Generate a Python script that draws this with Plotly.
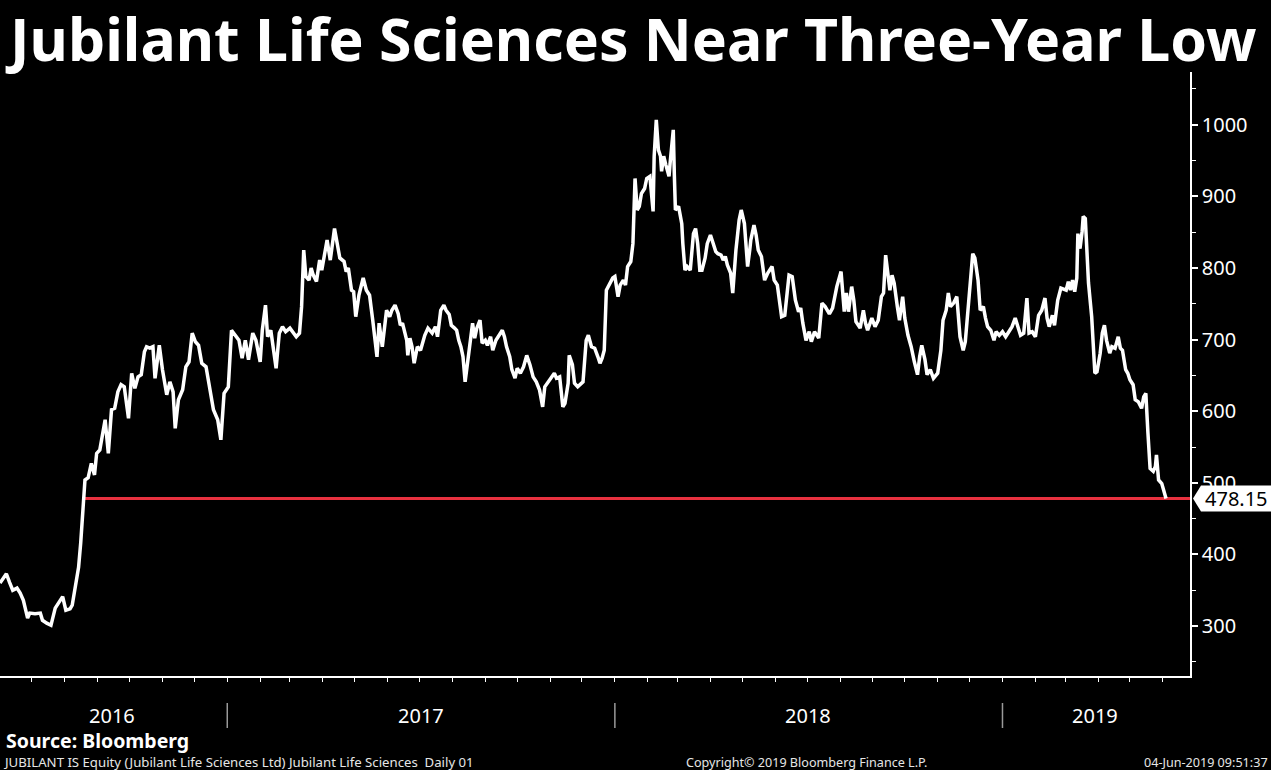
import plotly.graph_objects as go

# JUBILANT IS Equity, daily close
dates = [
    "2016-06-01", "2016-06-07", "2016-06-10", "2016-06-13", "2016-06-17", "2016-06-20",
    "2016-06-23", "2016-06-27", "2016-06-29", "2016-07-04", "2016-07-09", "2016-07-11",
    "2016-07-15", "2016-07-19", "2016-07-23", "2016-07-27", "2016-07-30", "2016-08-02",
    "2016-08-06", "2016-08-08", "2016-08-11", "2016-08-14", "2016-08-16", "2016-08-18",
    "2016-08-20", "2016-08-23", "2016-08-26", "2016-08-29", "2016-08-31", "2016-09-03",
    "2016-09-05", "2016-09-08", "2016-09-11", "2016-09-14", "2016-09-17", "2016-09-20",
    "2016-09-23", "2016-09-26", "2016-09-30", "2016-10-03", "2016-10-06", "2016-10-09",
    "2016-10-12", "2016-10-15", "2016-10-17", "2016-10-20", "2016-10-23", "2016-10-25",
    "2016-10-29", "2016-11-01", "2016-11-05", "2016-11-08", "2016-11-11", "2016-11-13",
    "2016-11-16", "2016-11-20", "2016-11-23", "2016-11-26", "2016-11-29", "2016-12-02",
    "2016-12-05", "2016-12-08", "2016-12-12", "2016-12-15", "2016-12-19", "2016-12-23",
    "2016-12-26", "2016-12-29", "2017-01-02", "2017-01-05", "2017-01-09", "2017-01-12",
    "2017-01-15", "2017-01-18", "2017-01-21", "2017-01-25", "2017-01-28", "2017-02-01",
    "2017-02-03", "2017-02-06", "2017-02-08", "2017-02-11", "2017-02-16", "2017-02-19",
    "2017-02-22", "2017-02-25", "2017-03-01", "2017-03-07", "2017-03-10", "2017-03-12",
    "2017-03-14", "2017-03-16", "2017-03-19", "2017-03-21", "2017-03-23", "2017-03-26",
    "2017-03-29", "2017-03-31", "2017-04-05", "2017-04-08", "2017-04-12", "2017-04-15",
    "2017-04-17", "2017-04-21", "2017-04-23", "2017-04-25", "2017-04-28", "2017-04-30",
    "2017-05-02", "2017-05-05", "2017-05-09", "2017-05-12", "2017-05-15", "2017-05-18",
    "2017-05-22", "2017-05-24", "2017-05-27", "2017-05-31", "2017-06-03", "2017-06-05",
    "2017-06-08", "2017-06-11", "2017-06-13", "2017-06-15", "2017-06-19", "2017-06-20",
    "2017-06-22", "2017-06-24", "2017-06-26", "2017-06-29", "2017-07-02", "2017-07-06",
    "2017-07-09", "2017-07-13", "2017-07-16", "2017-07-18", "2017-07-21", "2017-07-24",
    "2017-07-26", "2017-07-29", "2017-07-31", "2017-08-03", "2017-08-05", "2017-08-07",
    "2017-08-09", "2017-08-11", "2017-08-13", "2017-08-16", "2017-08-18", "2017-08-20",
    "2017-08-22", "2017-08-24", "2017-08-27", "2017-08-29", "2017-09-01", "2017-09-03",
    "2017-09-06", "2017-09-08", "2017-09-11", "2017-09-14", "2017-09-17", "2017-09-19",
    "2017-09-21", "2017-09-24", "2017-09-26", "2017-09-29", "2017-10-01", "2017-10-04",
    "2017-10-07", "2017-10-10", "2017-10-13", "2017-10-16", "2017-10-19", "2017-10-22",
    "2017-10-25", "2017-10-27", "2017-10-30", "2017-11-02", "2017-11-05", "2017-11-07",
    "2017-11-10", "2017-11-13", "2017-11-15", "2017-11-18", "2017-11-19", "2017-11-22",
    "2017-11-24", "2017-11-27", "2017-11-30", "2017-12-02", "2017-12-05", "2017-12-07",
    "2017-12-10", "2017-12-13", "2017-12-16", "2017-12-18", "2017-12-20", "2017-12-22",
    "2017-12-24", "2017-12-27", "2017-12-30", "2018-01-01", "2018-01-04", "2018-01-06",
    "2018-01-09", "2018-01-11", "2018-01-13", "2018-01-16", "2018-01-18", "2018-01-20",
    "2018-01-22", "2018-01-24", "2018-01-26", "2018-01-29", "2018-01-31", "2018-02-03",
    "2018-02-04", "2018-02-06", "2018-02-07", "2018-02-09", "2018-02-11", "2018-02-13",
    "2018-02-14", "2018-02-16", "2018-02-18", "2018-02-21", "2018-02-22", "2018-02-25",
    "2018-02-26", "2018-02-27", "2018-03-02", "2018-03-05", "2018-03-06", "2018-03-08",
    "2018-03-10", "2018-03-13", "2018-03-16", "2018-03-18", "2018-03-20", "2018-03-22",
    "2018-03-24", "2018-03-27", "2018-03-29", "2018-04-01", "2018-04-03", "2018-04-06",
    "2018-04-08", "2018-04-11", "2018-04-13", "2018-04-15", "2018-04-17", "2018-04-20",
    "2018-04-22", "2018-04-25", "2018-04-28", "2018-04-30", "2018-05-03", "2018-05-06",
    "2018-05-08", "2018-05-09", "2018-05-12", "2018-05-14", "2018-05-16", "2018-05-19",
    "2018-05-22", "2018-05-25", "2018-05-29", "2018-05-31", "2018-06-03", "2018-06-07",
    "2018-06-10", "2018-06-12", "2018-06-14", "2018-06-17", "2018-06-20", "2018-06-23",
    "2018-06-25", "2018-06-27", "2018-06-30", "2018-07-03", "2018-07-05", "2018-07-08",
    "2018-07-12", "2018-07-15", "2018-07-18", "2018-07-22", "2018-07-25", "2018-07-29",
    "2018-08-02", "2018-08-05", "2018-08-07", "2018-08-09", "2018-08-12", "2018-08-14",
    "2018-08-16", "2018-08-20", "2018-08-23", "2018-08-25", "2018-08-27", "2018-08-31",
    "2018-09-03", "2018-09-06", "2018-09-09", "2018-09-11", "2018-09-13", "2018-09-15",
    "2018-09-17", "2018-09-19", "2018-09-21", "2018-09-24", "2018-09-26", "2018-09-29",
    "2018-10-01", "2018-10-04", "2018-10-07", "2018-10-10", "2018-10-13", "2018-10-15",
    "2018-10-17", "2018-10-20", "2018-10-22", "2018-10-25", "2018-10-28", "2018-11-01",
    "2018-11-04", "2018-11-06", "2018-11-09", "2018-11-11", "2018-11-13", "2018-11-16",
    "2018-11-19", "2018-11-22", "2018-11-25", "2018-11-27", "2018-11-30", "2018-12-02",
    "2018-12-04", "2018-12-06", "2018-12-09", "2018-12-11", "2018-12-14", "2018-12-16",
    "2018-12-18", "2018-12-21", "2018-12-24", "2018-12-26", "2018-12-29", "2019-01-01",
    "2019-01-04", "2019-01-07", "2019-01-10", "2019-01-13", "2019-01-15", "2019-01-18",
    "2019-01-21", "2019-01-24", "2019-01-26", "2019-01-29", "2019-02-01", "2019-02-04",
    "2019-02-07", "2019-02-10", "2019-02-12", "2019-02-14", "2019-02-17", "2019-02-19",
    "2019-02-22", "2019-02-25", "2019-03-02", "2019-03-04", "2019-03-06", "2019-03-08",
    "2019-03-10", "2019-03-12", "2019-03-13", "2019-03-15", "2019-03-17", "2019-03-18",
    "2019-03-20", "2019-03-21", "2019-03-23", "2019-03-26", "2019-03-27", "2019-03-29",
    "2019-03-31", "2019-04-03", "2019-04-05", "2019-04-07", "2019-04-09", "2019-04-12",
    "2019-04-14", "2019-04-17", "2019-04-20", "2019-04-22", "2019-04-24", "2019-04-27",
    "2019-04-29", "2019-05-01", "2019-05-04", "2019-05-06", "2019-05-09", "2019-05-12",
    "2019-05-14", "2019-05-16", "2019-05-18", "2019-05-20", "2019-05-23", "2019-05-25",
    "2019-05-26", "2019-05-28", "2019-05-31", "2019-06-02", "2019-06-04",
]

prices = [
    360, 373, 361, 350, 353, 346,
    336, 311, 318, 317, 318, 308,
    304, 301, 325, 334, 341, 322,
    324, 329, 355, 382, 416, 466,
    504, 507, 527, 511, 541, 546,
    564, 588, 541, 602, 604, 627,
    637, 634, 590, 653, 632, 648,
    651, 683, 690, 688, 690, 646,
    692, 658, 623, 641, 627, 576,
    616, 630, 662, 669, 709, 697,
    692, 667, 662, 639, 602, 588,
    560, 625, 634, 713, 704, 699,
    674, 699, 672, 709, 699, 669,
    713, 748, 704, 713, 660, 709,
    718, 711, 716, 704, 709, 746,
    825, 788, 783, 800, 790, 781,
    811, 797, 839, 811, 855, 830,
    814, 809, 795, 800, 769, 767,
    732, 762, 786, 769, 762, 727,
    676, 723, 690, 741, 732, 741,
    748, 736, 720, 723, 699, 678,
    702, 690, 667, 690, 685, 706,
    716, 709, 718, 704, 741, 748,
    741, 735, 720, 716, 713, 699,
    690, 676, 641, 676, 699, 723,
    702, 716, 727, 695, 699, 692,
    704, 685, 699, 706, 713, 704,
    690, 676, 658, 646, 660, 653,
    662, 678, 665, 648, 641, 630,
    606, 634, 641, 646, 653, 646,
    648, 606, 611, 639, 678, 665,
    639, 634, 639, 641, 699, 706,
    690, 688, 676, 667, 674, 685,
    769, 779, 786, 788, 760, 776,
    783, 776, 802, 809, 834, 925,
    881, 886, 904, 911, 925, 928,
    909, 879, 956, 1007, 965, 956,
    935, 956, 944, 928, 946, 993,
    930, 881, 886, 862, 834, 797,
    802, 797, 848, 855, 834, 797,
    797, 814, 834, 846, 837, 823,
    820, 818, 811, 816, 804, 793,
    765, 825, 867, 881, 862, 802,
    825, 839, 860, 846, 825, 816,
    783, 793, 802, 783, 776, 732,
    734, 760, 790, 788, 755, 739,
    744, 723, 699, 711, 697, 711,
    702, 751, 746, 736, 744, 774,
    795, 739, 765, 739, 774, 755,
    725, 716, 741, 723, 713, 730,
    718, 727, 760, 765, 818, 793,
    769, 790, 779, 746, 727, 760,
    730, 706, 690, 669, 651, 676,
    692, 672, 651, 658, 646, 653,
    685, 727, 741, 765, 746, 751,
    760, 704, 685, 697, 746, 788,
    820, 814, 783, 741, 746, 730,
    718, 713, 699, 711, 706, 711,
    704, 711, 718, 730, 720, 706,
    709, 758, 709, 711, 704, 734,
    741, 758, 730, 718, 734, 720,
    755, 772, 769, 781, 769, 783,
    767, 786, 848, 827, 851, 872,
    869, 844, 779, 732, 699, 653,
    655, 681, 709, 720, 699, 681,
    690, 688, 704, 688, 685, 658,
    653, 644, 637, 616, 613, 604,
    620, 625, 569, 520, 516, 523,
    539, 504, 499, 488, 478.15,
]

last_price = 478.15
level_start = "2016-08-20"   # where the red level line begins

x_range = ["2016-06-01", "2019-06-26 14:00"]
y_range = [230.2, 1073.7]

month_ticks = [
    "2016-07-01", "2016-08-01", "2016-09-01", "2016-10-01", "2016-11-01", "2016-12-01",
    "2017-01-01", "2017-02-01", "2017-03-01", "2017-04-01", "2017-05-01", "2017-06-01",
    "2017-07-01", "2017-08-01", "2017-09-01", "2017-10-01", "2017-11-01", "2017-12-01",
    "2018-01-01", "2018-02-01", "2018-03-01", "2018-04-01", "2018-05-01", "2018-06-01",
    "2018-07-01", "2018-08-01", "2018-09-01", "2018-10-01", "2018-11-01", "2018-12-01",
    "2019-01-01", "2019-02-01", "2019-03-01", "2019-04-01", "2019-05-01", "2019-06-01",
]
y_ticks = [300, 400, 500, 600, 700, 800, 900, 1000]
y_minor = [250, 350, 450, 550, 650, 750, 850, 950, 1050]

year_labels = ["2016", "2017", "2018", "2019"]
year_centers = ["2016-09-14", "2017-07-02", "2018-07-02", "2019-03-29"]
year_breaks = ["2017-01-01", "2018-01-01", "2019-01-01"]

W, H = 1271, 770
M_L, M_R, M_T, M_B = 0, 81, 72, 94
PW, PH = W - M_L - M_R, H - M_T - M_B


def px(xp):
    return (xp - M_L) / PW


def py(yp):
    return (H - M_B - yp) / PH


WHITE = "#ffffff"
RED = "#e8313f"
LABEL_FONT = "Noto Sans"

fig = go.Figure()

fig.add_trace(go.Scatter(
    x=[level_start, x_range[1]], y=[last_price, last_price],
    mode="lines", line=dict(color=RED, width=3), hoverinfo="skip",
))
fig.add_trace(go.Scatter(
    x=dates, y=prices, mode="lines",
    line=dict(color=WHITE, width=3.5), hoverinfo="skip",
))

# price tag on the right axis
per_px = (y_range[1] - y_range[0]) / PH
half = 13 * per_px
x_tip, x_box, x_end = px(1193), px(1201), px(1271)
fig.add_shape(
    type="path", xref="paper", yref="y", layer="above",
    path=(f"M {x_tip},{last_price} L {x_box},{last_price + half} "
          f"L {x_end},{last_price + half} L {x_end},{last_price - half} "
          f"L {x_box},{last_price - half} Z"),
    fillcolor=WHITE, line=dict(width=0),
)

annotations = [
    dict(x=px(1203), y=last_price, xref="paper", yref="y", text=f"{last_price:.2f}",
         xanchor="left", yanchor="middle", showarrow=False,
         font=dict(family=LABEL_FONT, size=20, color="#000000")),
    dict(x=px(3), y=py(38), xref="paper", yref="paper",
         text="<b>Jubilant Life Sciences Near Three-Year Low</b>",
         xanchor="left", yanchor="middle", showarrow=False,
         font=dict(family="Noto Sans", size=59, color=WHITE)),
    dict(x=px(4), y=py(740), xref="paper", yref="paper", text="<b>Source: Bloomberg</b>",
         xanchor="left", yanchor="middle", showarrow=False,
         font=dict(family="Noto Sans", size=19.5, color=WHITE)),
    dict(x=px(1), y=py(762), xref="paper", yref="paper",
         text="JUBILANT IS Equity (Jubilant Life Sciences Ltd) Jubilant Life Sciences&nbsp; Daily 01",
         xanchor="left", yanchor="middle", showarrow=False,
         font=dict(family=LABEL_FONT, size=13.2, color="#e6e6e6")),
    dict(x=px(684), y=py(762), xref="paper", yref="paper",
         text="Copyright© 2019 Bloomberg Finance L.P.",
         xanchor="left", yanchor="middle", showarrow=False,
         font=dict(family=LABEL_FONT, size=12.6, color="#e6e6e6")),
    dict(x=px(1270), y=py(762), xref="paper", yref="paper",
         text="04-Jun-2019 09:51:37",
         xanchor="right", yanchor="middle", showarrow=False,
         font=dict(family=LABEL_FONT, size=12.6, color="#e6e6e6")),
]
for label, center in zip(year_labels, year_centers):
    annotations.append(dict(
        x=center, y=py(715), xref="x", yref="paper", text=label,
        xanchor="center", yanchor="middle", showarrow=False,
        font=dict(family=LABEL_FONT, size=20, color=WHITE),
    ))

for b in year_breaks:
    fig.add_shape(type="line", xref="x", yref="paper", x0=b, x1=b,
                  y0=py(703), y1=py(728), line=dict(color="#9a9a9a", width=1.5))

fig.update_layout(
    width=W, height=H,
    margin=dict(l=M_L, r=M_R, t=M_T, b=M_B),
    paper_bgcolor="#000000", plot_bgcolor="#000000",
    showlegend=False,
    annotations=annotations,
    xaxis=dict(
        type="date", range=x_range, showgrid=False, zeroline=False,
        showline=True, linecolor=WHITE, linewidth=1.5,
        tickmode="array", tickvals=month_ticks, ticks="outside",
        ticklen=4, tickwidth=1, tickcolor=WHITE, showticklabels=False,
    ),
    yaxis=dict(
        side="right", range=y_range, showgrid=False, zeroline=False,
        showline=True, linecolor=WHITE, linewidth=1.5,
        tickmode="array", tickvals=y_ticks, ticks="outside",
        ticklen=6, tickwidth=2, tickcolor=WHITE,
        tickfont=dict(family=LABEL_FONT, size=20, color=WHITE),
        minor=dict(tickmode="array", tickvals=y_minor, ticks="outside",
                   ticklen=4, tickwidth=1, tickcolor=WHITE),
    ),
)

# the page's default body margin would push the figure off the window
fig.write_html(
    "out.html",
    config={"displayModeBar": False},
    post_script="document.body.style.margin='0';document.body.style.background='#000';",
)
